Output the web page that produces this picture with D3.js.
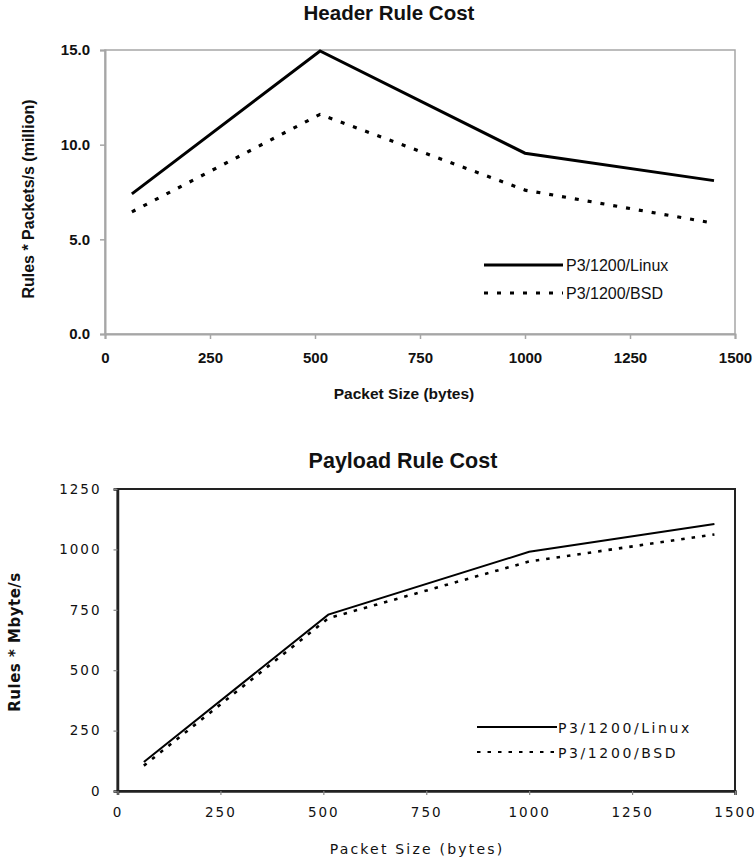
<!DOCTYPE html>
<html><head><meta charset="utf-8">
<script src="https://cdn.jsdelivr.net/npm/d3@7"></script>
<style>body{margin:0;background:#fff}svg{display:block}</style>
</head><body>
<svg id="c" width="756" height="862"></svg>
<script>
// Data
const packetSizes = [64, 512, 1000, 1450];
const headerLinux = [7.4, 14.95, 9.55, 8.1];
const headerBSD = [6.45, 11.6, 7.6, 5.85];
const payloadLinux = [120, 730, 990, 1105];
const payloadBSD = [105, 715, 950, 1062];
const headerYTicks = [0, 5, 10, 15];
const payloadYTicks = [0, 250, 500, 750, 1000, 1250];
const xTicks = [0, 250, 500, 750, 1000, 1250, 1500];
const seriesNames = ["P3/1200/Linux", "P3/1200/BSD"];

const svg = d3.select("#c");
const arial = "Liberation Sans, Arial, sans-serif";

// ---------- Top chart ----------
(function(){
  const x = d3.scaleLinear().domain([0,1500]).range([105,735]);
  const y = d3.scaleLinear().domain([0,15]).range([334,50]);
  const g = svg.append("g");
  const axisCol = "#a6a6a6";
  g.append("rect").attr("x",x(0)).attr("y",y(15)).attr("width",x(1500)-x(0)).attr("height",y(0)-y(15))
    .attr("fill","none").attr("stroke",axisCol).attr("stroke-width",1.5);
  const yAxis = g.append("g").attr("transform",`translate(${x(0)},0)`)
    .call(d3.axisLeft(y).tickValues(headerYTicks).tickFormat(d3.format(".1f")).tickSize(5).tickPadding(10));
  const xAxis = g.append("g").attr("transform",`translate(0,${y(0)})`)
    .call(d3.axisBottom(x).tickValues(xTicks).tickFormat(d3.format("d")).tickSize(5).tickPadding(13));
  [yAxis,xAxis].forEach(a=>{
    a.select(".domain").attr("stroke",axisCol).attr("stroke-width",2);
    a.selectAll(".tick line").attr("stroke",axisCol).attr("stroke-width",1.5);
    a.selectAll("text").attr("font-family",arial).attr("font-weight","bold")
      .attr("font-size",15).attr("fill","#111");
  });
  const line = d3.line().x((d,i)=>x(packetSizes[i])).y(d=>y(d));
  g.append("path").datum(headerLinux).attr("d",line).attr("fill","none").attr("stroke","#000").attr("stroke-width",3);
  g.append("path").datum(headerBSD).attr("d",line).attr("fill","none").attr("stroke","#000").attr("stroke-width",3.2)
    .attr("stroke-dasharray","4,9");
  g.append("text").attr("x",389).attr("y",20).attr("text-anchor","middle")
    .attr("font-family",arial).attr("font-weight","bold").attr("font-size",20.5).attr("fill","#111")
    .text("Header Rule Cost");
  g.append("text").attr("x",404).attr("y",399).attr("text-anchor","middle")
    .attr("font-family",arial).attr("font-weight","bold").attr("font-size",15.5).attr("fill","#111")
    .text("Packet Size (bytes)");
  g.append("text").attr("transform","translate(34,199) rotate(-90)").attr("text-anchor","middle")
    .attr("font-family",arial).attr("font-weight","bold").attr("font-size",16).attr("fill","#111")
    .text("Rules * Packets/s (million)");
  const lg = g.append("g");
  [[265,null],[293,"4,9"]].forEach((s,i)=>{
    lg.append("line").attr("x1",484).attr("x2",563).attr("y1",s[0]).attr("y2",s[0])
      .attr("stroke","#000").attr("stroke-width",3).attr("stroke-dasharray",s[1]);
    lg.append("text").attr("x",566).attr("y",s[0]+5.5)
      .attr("font-family",arial).attr("font-size",16).attr("fill","#111")
      .text(seriesNames[i]);
  });
})();

// ---------- Bottom chart ----------
(function(){
  const x = d3.scaleLinear().domain([0,1500]).range([117.5,735]);
  const y = d3.scaleLinear().domain([0,1250]).range([791,489]);
  const g = svg.append("g");
  const gothic = "DejaVu Sans, sans-serif";
  g.append("rect").attr("x",x(0)).attr("y",y(1250)).attr("width",x(1500)-x(0)).attr("height",y(0)-y(1250))
    .attr("fill","none").attr("stroke","#222").attr("stroke-width",2);
  const yAxis = g.append("g").attr("transform",`translate(${x(0)},0)`)
    .call(d3.axisLeft(y).tickValues(payloadYTicks).tickFormat(d3.format("d")).tickSize(4).tickPadding(14));
  const xAxis = g.append("g").attr("transform",`translate(0,${y(0)})`)
    .call(d3.axisBottom(x).tickValues(xTicks).tickFormat(d3.format("d")).tickSize(4).tickPadding(12));
  [yAxis,xAxis].forEach(a=>{
    a.select(".domain").attr("stroke","#222").attr("stroke-width",2.5);
    a.selectAll(".tick line").attr("stroke","#888").attr("stroke-width",1.2);
    a.selectAll("text").attr("font-family",gothic).attr("font-size",13.5).attr("fill","#111")
      .attr("letter-spacing","2px");
  });
  yAxis.selectAll("text").attr("dx","2px");
  const line = d3.line().x((d,i)=>x(packetSizes[i])).y(d=>y(d));
  g.append("path").datum(payloadLinux).attr("d",line).attr("fill","none").attr("stroke","#000").attr("stroke-width",2);
  g.append("path").datum(payloadBSD).attr("d",line).attr("fill","none").attr("stroke","#000").attr("stroke-width",2.6)
    .attr("stroke-dasharray","3.5,7");
  g.append("text").attr("x",403).attr("y",468).attr("text-anchor","middle")
    .attr("font-family",arial).attr("font-weight","bold").attr("font-size",21.5).attr("fill","#111")
    .text("Payload Rule Cost");
  g.append("text").attr("x",417).attr("y",854).attr("text-anchor","middle")
    .attr("font-family",gothic).attr("font-size",14).attr("letter-spacing","2.2px").attr("fill","#111")
    .text("Packet Size (bytes)");
  g.append("text").attr("transform","translate(20,642) rotate(-90)").attr("text-anchor","middle")
    .attr("font-family",gothic).attr("font-weight","bold").attr("font-size",15).attr("letter-spacing","0.5px").attr("fill","#111")
    .text("Rules * Mbyte/s");
  const lg = g.append("g");
  [[727,null],[752,"3.5,7"]].forEach((s,i)=>{
    lg.append("line").attr("x1",477).attr("x2",557).attr("y1",s[0]).attr("y2",s[0])
      .attr("stroke","#000").attr("stroke-width",2.2).attr("stroke-dasharray",s[1]);
    lg.append("text").attr("x",558).attr("y",s[0]+5.5)
      .attr("font-family",gothic).attr("font-size",14).attr("letter-spacing","2.6px").attr("fill","#111")
      .text(seriesNames[i]);
  });
})();
</script>
</body></html>
